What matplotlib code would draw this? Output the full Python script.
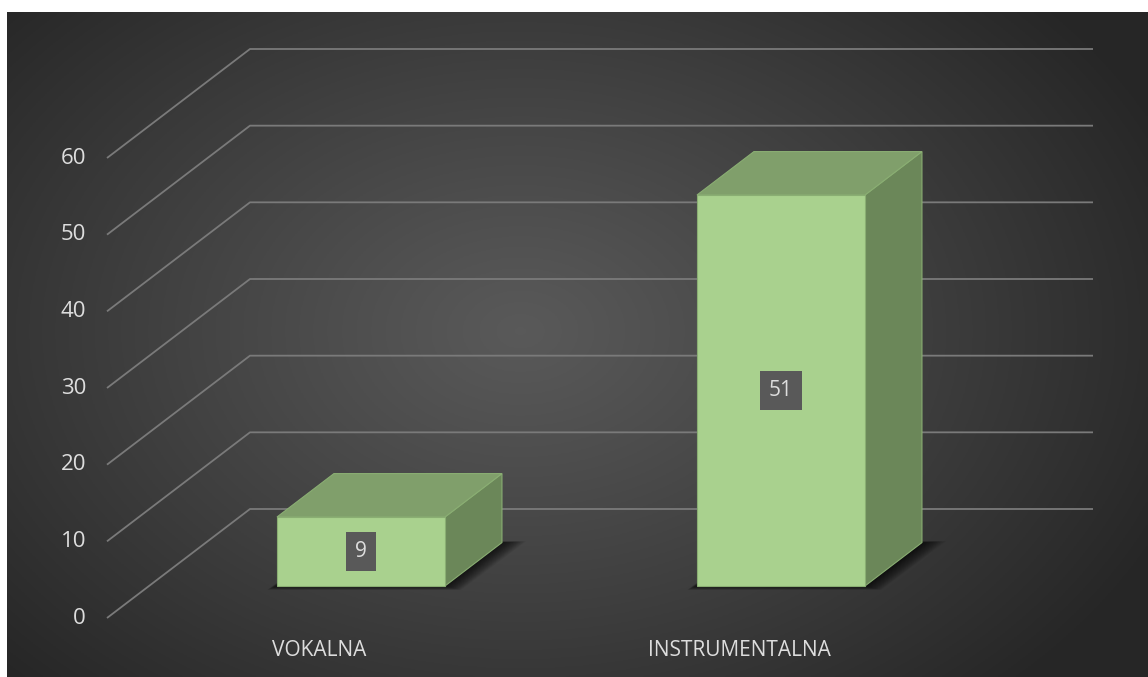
import numpy as np
import matplotlib.pyplot as plt
from matplotlib.patches import Polygon

# data
categories = ["VOKALNA", "INSTRUMENTALNA"]
values = [9, 51]
yticks = [0, 10, 20, 30, 40, 50, 60]

W, H = 1148, 677
plt.rcParams["font.family"] = ["Open Sans", "DejaVu Sans"]
txt_col = "#DDDDDD"

fig = plt.figure(figsize=(W / 100, H / 100), dpi=100)
fig.patch.set_facecolor("white")

# dark radial-gradient chart area
bg = fig.add_axes([7 / W, 0, 1 - 7 / W, 1 - 12 / H])
bg.axis("off")
gx, gy = np.meshgrid(np.linspace(0, 1, 400), np.linspace(0, 1, 300))
r = np.sqrt(((gx - 0.45) / 0.62) ** 2 + ((gy - 0.48) / 0.75) ** 2)
r = np.clip(r, 0, 1)
shade = 0.35 - (0.35 - 0.15) * r ** 1.1
bg.imshow(np.dstack([shade] * 3), extent=[0, 1, 0, 1], origin="upper", aspect="auto")

# main axes: x in category units (front plane), y in value units
ax = fig.add_axes([0, 0, 1, 1])
ax.patch.set_alpha(0)
ax.axis("off")
ppu = (618 - 158) / 60.0
ax.set_xlim(-319 / 420, (W - 319) / 420)
ax.set_ylim((618 - H) / ppu, 618 / ppu)

DX, DY = 143 / 420, 109 / ppu      # full depth of the floor
x_left = (107 - 319) / 420
x_back_right = (1093 - 319) / 420

for v in yticks:
    ax.plot([x_left, x_left + DX, x_back_right], [v, v + DY, v + DY],
            color="#7a7a7a", lw=1.3, zorder=1, solid_capstyle="butt")
    ax.text(x_left - 0.05, v, str(v), ha="right", va="center",
            fontsize=16, color=txt_col)

# 3D columns
f0, f1 = 0.2936, 0.692
hw = 0.2
front_c, top_c, side_c, edge_c = "#A9D18E", "#809F6B", "#6B8759", "#8AAE73"
for i, v in enumerate(values):
    xl, xr = i - hw, i + hw
    # soft shadow on the floor
    for k in range(18):
        gpx = (16 - k) / 420
        gpy = (16 - k) / ppu * 0.4
        shp = [(xl + f0 * DX - gpx * 0.6, f0 * DY - gpy * 0.6),
               (xr + f0 * DX + gpx, f0 * DY - gpy * 0.6),
               (xr + f1 * DX + gpx * 1.5, f1 * DY + gpy * 0.2),
               (xl + f1 * DX, f1 * DY + gpy * 0.2)]
        ax.add_patch(Polygon(shp, closed=True, facecolor="black", edgecolor="none",
                             alpha=0.06, zorder=2))
    front = [(xl + f0 * DX, f0 * DY), (xr + f0 * DX, f0 * DY),
             (xr + f0 * DX, v + f0 * DY), (xl + f0 * DX, v + f0 * DY)]
    top = [(xl + f0 * DX, v + f0 * DY), (xr + f0 * DX, v + f0 * DY),
           (xr + f1 * DX, v + f1 * DY), (xl + f1 * DX, v + f1 * DY)]
    side = [(xr + f0 * DX, f0 * DY), (xr + f1 * DX, f1 * DY),
            (xr + f1 * DX, v + f1 * DY), (xr + f0 * DX, v + f0 * DY)]
    for poly, c in [(side, side_c), (top, top_c), (front, front_c)]:
        ax.add_patch(Polygon(poly, closed=True, facecolor=c, edgecolor=edge_c,
                             lw=0.8, zorder=3))
    ax.text(i + f0 * DX, f0 * DY + v / 2, str(v), ha="center", va="center",
            fontsize=15, color=txt_col, zorder=4,
            bbox=dict(boxstyle="square,pad=0.42", facecolor="#595959", edgecolor="none"))
    ax.text(i, (618 - 650) / ppu, categories[i], ha="center", va="center",
            fontsize=15, color=txt_col)

fig.savefig("out.png", dpi=100)
